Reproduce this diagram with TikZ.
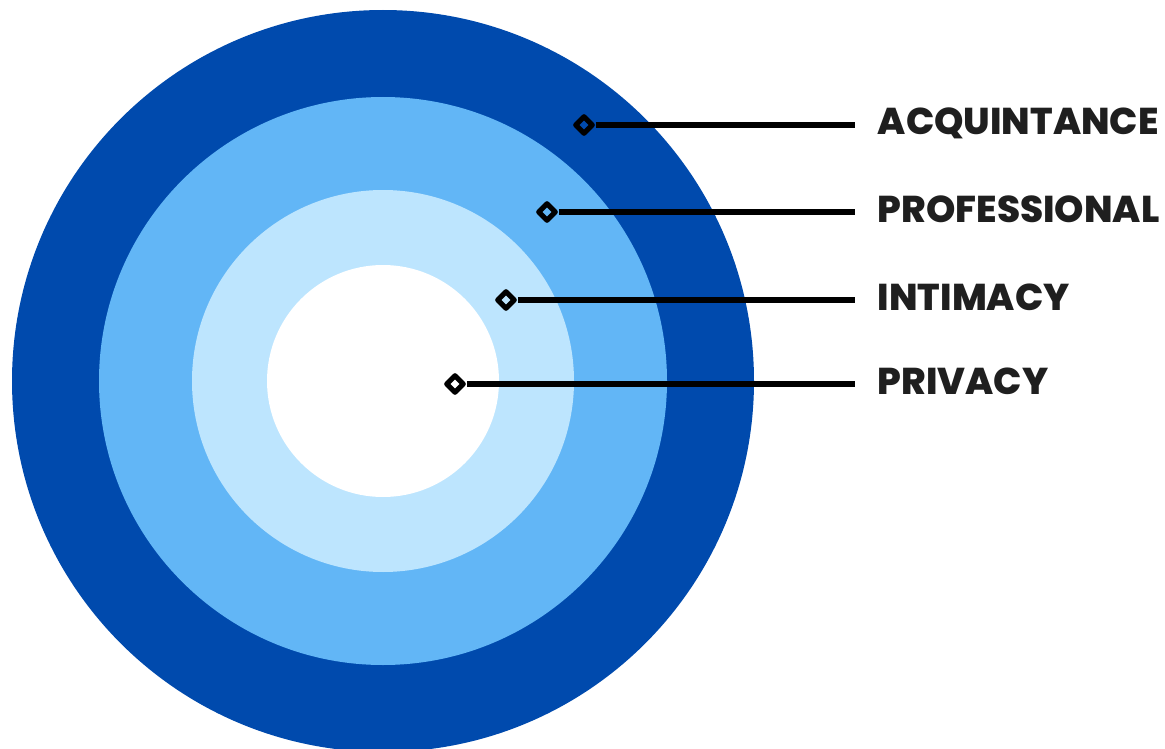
\documentclass[tikz,border=0pt]{standalone}
\usepackage{fontspec}
\setmainfont{Poppins}[BoldFont={Poppins ExtraBold}]
\usetikzlibrary{shapes.geometric}

\definecolor{ringdark}{RGB}{0,74,173}
\definecolor{ringmid}{RGB}{98,182,246}
\definecolor{ringlight}{RGB}{189,229,254}

\begin{document}
\begin{tikzpicture}[x = 0.75pt, y = -0.75pt, % one unit = one pixel
                line join = round
            ]

            \tikzset{marker/.style = {draw = black, diamond, line width = 3.8pt,
            inner sep = 0pt, minimum size = 14pt},
            zone/.style = {anchor = base west, inner xsep = 17pt, inner ysep = 0pt,
            font = \fontsize{28}{28}\bfseries, text = black!88},
            leader/.style = {draw = black, line width = 4.2pt}}

            \useasboundingbox (0,0) rectangle (1165,749);

            % rings, outside in
            \begin{scope}
            \clip (0,0) rectangle (1165,749);
            \fill[ringdark] (383,381) circle (371);
            \fill[ringmid] (383,381) circle (284);
            \fill[ringlight] (383,381) circle (191);
            \fill[white] (383,381) circle (116);
            \end{scope}

            \node[marker] (acq) at (584,125) {}; \node[marker] (prof) at
            (547,212) {}; \node[marker] (intim) at (506,300) {}; \node[marker]
            (priv) at (455,384) {};

            \node[zone] (lacq) at (855,135) {ACQUINTANCE}; \node[zone] (lprof)
            at (855,222) {PROFESSIONAL}; \node[zone] (lintim) at (855,310)
            {INTIMACY}; \node[zone] (lpriv) at (855,394) {PRIVACY};

            \path[leader] (acq.east) -- (acq.east -| lacq.west); \path[leader]
            (prof.east) -- (prof.east -| lprof.west); \path[leader] (intim.east)
            -- (intim.east -| lintim.west); \path[leader] (priv.east) --
            (priv.east -| lpriv.west); \end{tikzpicture}
\end{document}
